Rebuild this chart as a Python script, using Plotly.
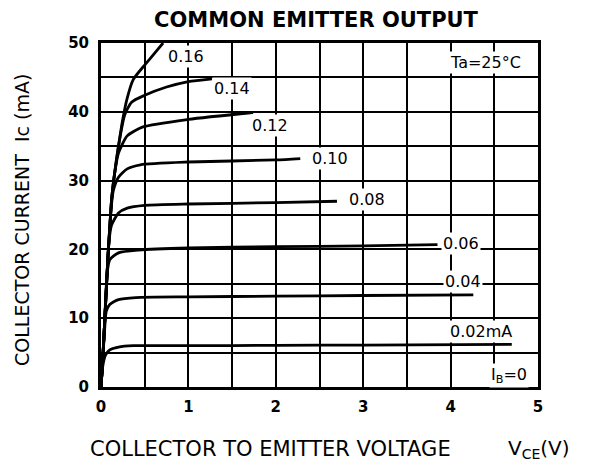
import plotly.graph_objects as go

# Base current IB (mA) -> collector curve (VCE in V, IC in mA)
vce_002 = [0, 0.02, 0.05, 0.1, 0.2, 0.37, 1.0, 2.0, 3.0, 4.7]
ic_002 = [0, 3.0, 4.6, 5.4, 5.8, 6.0, 6.0, 6.05, 6.1, 6.2]

vce_004 = [0, 0.02, 0.04, 0.06, 0.1, 0.2, 0.4, 1.0, 2.0, 3.0, 4.26]
ic_004 = [0, 4.0, 8.0, 11.0, 12.0, 12.7, 13.0, 13.1, 13.2, 13.3, 13.4]

vce_006 = [0, 0.02, 0.04, 0.07, 0.1, 0.2, 0.43, 1.0, 2.0, 3.0, 3.85]
ic_006 = [0, 4.0, 9.0, 16.5, 18.5, 19.5, 19.9, 20.2, 20.4, 20.5, 20.7]

vce_008 = [0, 0.02, 0.04, 0.06, 0.09, 0.12, 0.2, 0.3, 0.5, 1.0, 2.0, 2.7]
ic_008 = [0, 4.0, 9.0, 14.0, 21.0, 23.5, 25.3, 26.0, 26.4, 26.6, 26.8, 27.0]

vce_010 = [0, 0.02, 0.04, 0.06, 0.08, 0.11, 0.14, 0.2, 0.3, 0.45, 1.0, 2.0, 2.28]
ic_010 = [0, 4.0, 9.0, 14.0, 19.0, 25.0, 28.5, 30.5, 31.7, 32.3, 32.7, 33.0, 33.2]

vce_012 = [0, 0.02, 0.04, 0.06, 0.08, 0.1, 0.12, 0.15, 0.2, 0.3, 0.48, 1.0, 1.74]
ic_012 = [0, 4.0, 9.0, 14.0, 19.0, 23.0, 27.0, 30.5, 34.0, 36.5, 37.8, 38.9, 39.9]

vce_014 = [0, 0.02, 0.04, 0.06, 0.08, 0.1, 0.12, 0.15, 0.2, 0.27, 0.35, 0.5, 0.75, 1.0, 1.27]
ic_014 = [0, 4.0, 9.0, 14.0, 19.0, 23.0, 27.0, 30.5, 35.0, 39.5, 41.4, 42.4, 43.6, 44.4, 44.8]

vce_016 = [0, 0.02, 0.04, 0.06, 0.08, 0.1, 0.12, 0.15, 0.2, 0.25, 0.3, 0.37, 0.5, 0.6, 0.71]
ic_016 = [0, 4.0, 9.0, 14.0, 19.0, 23.0, 27.0, 30.5, 35.0, 39.0, 42.0, 44.7, 46.8, 48.3, 50.0]

curves = [
    (vce_002, ic_002), (vce_004, ic_004), (vce_006, ic_006), (vce_008, ic_008),
    (vce_010, ic_010), (vce_012, ic_012), (vce_014, ic_014), (vce_016, ic_016),
]

label_texts = ["0.16", "0.14", "0.12", "0.10", "0.08", "0.06", "0.04", "0.02mA",
               "I<sub>B</sub>=0", "Ta=25\u00b0C"]
label_x = [0.97, 1.50, 1.93, 2.62, 3.04, 4.12, 4.14, 4.35, 4.67, 4.40]
label_y = [48.0, 43.4, 38.0, 33.2, 27.2, 20.8, 15.4, 8.1, 1.6, 47.2]

x_ticks = [0, 1, 2, 3, 4, 5]
y_ticks = [0, 10, 20, 30, 40, 50]

FONT = "DejaVu Sans"

fig = go.Figure()
for vx, iy in curves:
    fig.add_trace(go.Scatter(x=vx, y=iy, mode="lines",
                             line=dict(color="black", width=2.8, shape="spline", smoothing=0.6),
                             showlegend=False, hoverinfo="skip"))

for t, lx, ly in zip(label_texts, label_x, label_y):
    fig.add_annotation(x=lx, y=ly, text=t, showarrow=False,
                       font=dict(family=FONT, size=16, color="black"),
                       bgcolor="white", borderpad=1)

fig.update_layout(
    width=590, height=461,
    margin=dict(l=101, r=52, t=43, b=74),
    plot_bgcolor="white", paper_bgcolor="white",
    title=dict(text="<b>COMMON EMITTER OUTPUT</b>", x=316 / 590, xanchor="center",
               y=1 - 20 / 461, yanchor="middle",
               font=dict(family=FONT, size=21, color="black")),
    xaxis=dict(range=[0, 5], tickvals=x_ticks, ticktext=[str(v) for v in x_ticks],
               showgrid=True, gridcolor="black", gridwidth=2,
               minor=dict(dtick=0.5, showgrid=True, gridcolor="black", gridwidth=2, ticks=""),
               showline=True, linecolor="black", linewidth=3, mirror=True,
               ticks="", zeroline=False, ticklabelstandoff=4,
               tickfont=dict(family=FONT, size=15, color="black", weight="bold")),
    yaxis=dict(range=[0, 50], tickvals=y_ticks, ticktext=[str(v) for v in y_ticks],
               showgrid=True, gridcolor="black", gridwidth=2,
               minor=dict(dtick=5, showgrid=True, gridcolor="black", gridwidth=2, ticks=""),
               showline=True, linecolor="black", linewidth=3, mirror=True,
               ticks="", zeroline=False, ticklabelstandoff=6,
               tickfont=dict(family=FONT, size=15, color="black", weight="bold")),
)

PW, PH = 437, 344
fig.add_annotation(xref="paper", yref="paper", x=(270 - 101) / PW, y=-(449 - 387) / PH,
                   text="COLLECTOR TO EMITTER VOLTAGE", showarrow=False,
                   font=dict(family=FONT, size=21, color="black"),
                   xanchor="center", yanchor="middle")
fig.add_annotation(xref="paper", yref="paper", x=(506 - 101) / PW, y=-(449 - 387) / PH,
                   text="V<sub>CE</sub>(V)", showarrow=False,
                   font=dict(family=FONT, size=20, color="black"),
                   xanchor="left", yanchor="middle")
fig.add_annotation(xref="paper", yref="paper", x=-(101 - 22) / PW, y=(387 - 220) / PH,
                   text="COLLECTOR CURRENT  Ic (mA)", showarrow=False, textangle=-90,
                   font=dict(family=FONT, size=19, color="black"),
                   xanchor="center", yanchor="middle")

fig.write_html("out.html", config={"displayModeBar": False},
               post_script="document.body.style.margin='0';document.body.style.padding='0';")
